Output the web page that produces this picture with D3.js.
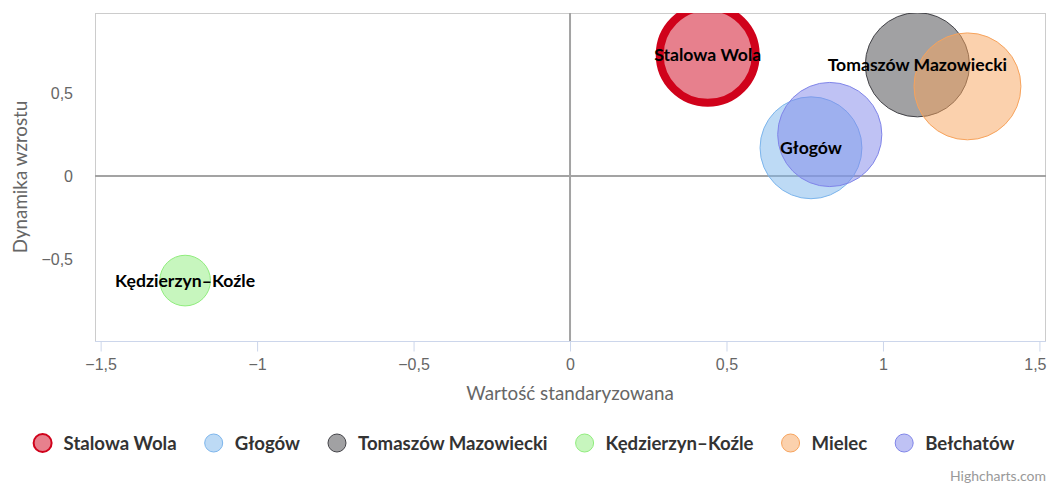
<!DOCTYPE html>
<html>
<head>
<meta charset="utf-8">
<script src="https://cdn.jsdelivr.net/npm/d3@7"></script>
<style>
  body { margin: 0; background: #fff; }
  svg { font-family: Lato, "DejaVu Sans", sans-serif; }
</style>
</head>
<body>
<div id="chart"></div>
<script>
  var names   = ["Stalowa Wola", "Głogów", "Tomaszów Mazowiecki", "Kędzierzyn–Koźle", "Mielec", "Bełchatów"];
  var xValues = [0.44, 0.77, 1.11, -1.23, 1.27, 0.83];
  var yValues = [0.73, 0.17, 0.67, -0.63, 0.54, 0.25];
  var zValues = [79, 89, 93, 22, 98, 93];
  var colors  = ["#d0021b", "#7cb5ec", "#434348", "#90ed7d", "#f7a35c", "#8085e9"];
  // labels hidden where they collide with another label
  var labelled = ["Stalowa Wola", "Głogów", "Tomaszów Mazowiecki", "Kędzierzyn–Koźle"];
  var xTicks  = [-1.5, -1, -0.5, 0, 0.5, 1, 1.5];
  var yTicks  = [-0.5, 0, 0.5];

  var width = 1048, height = 484;
  var plot = { left: 95, top: 13, right: 1046, bottom: 341 };

  var pl = d3.formatLocale({ decimal: ",", thousands: " ", grouping: [3], currency: ["", " zł"], minus: "\u2212" });
  var fmt = pl.format("~f");

  var svg = d3.select("#chart")
    .append("svg")
      .attr("width", width)
      .attr("height", height);

  var x = d3.scaleLinear().domain([-1.518, 1.521]).range([plot.left, plot.right]);
  var y = d3.scaleLinear().domain([-0.994, 0.982]).range([plot.bottom, plot.top]);
  var r = d3.scaleSqrt().domain([0, 100]).range([0, 54]);

  var data = names.map(function(n, i) {
    return { name: n, x: xValues[i], y: yValues[i], z: zValues[i], color: colors[i] };
  });

  // plot frame
  svg.append("rect")
    .attr("x", plot.left + 0.5).attr("y", plot.top + 0.5)
    .attr("width", plot.right - plot.left - 1).attr("height", plot.bottom - plot.top)
    .attr("fill", "none").attr("stroke", "#ccc");

  svg.append("defs").append("clipPath").attr("id", "clip")
    .append("rect")
      .attr("x", plot.left).attr("y", plot.top)
      .attr("width", plot.right - plot.left).attr("height", plot.bottom - plot.top);

  // x axis
  var xAxis = svg.append("g")
    .attr("transform", "translate(0," + (plot.bottom + 0.5) + ")")
    .call(d3.axisBottom(x).tickValues(xTicks).tickFormat(fmt).tickSize(10).tickSizeOuter(0).tickPadding(7));
  xAxis.select(".domain").attr("stroke", "#ccd6eb").attr("d", "M" + plot.left + ",0H" + plot.right);
  xAxis.selectAll(".tick line").attr("stroke", "#ccd6eb");
  xAxis.selectAll(".tick text").attr("fill", "#666").style("font-size", "16px");
  // keep the last label inside the chart, as Highcharts does
  xAxis.selectAll(".tick text").each(function(d) {
    var w = this.getComputedTextLength();
    if (x(d) + w / 2 > plot.right) {
      d3.select(this).attr("text-anchor", "end").attr("x", plot.right - x(d));
    }
  });

  // y axis
  var yAxis = svg.append("g")
    .attr("transform", "translate(" + (plot.left - 22) + ",0)")
    .call(d3.axisLeft(y).tickValues(yTicks).tickFormat(fmt).tickSize(0).tickPadding(0));
  yAxis.select(".domain").remove();
  yAxis.selectAll(".tick text").attr("fill", "#666").style("font-size", "16px");

  // zero lines
  svg.append("line")
    .attr("x1", x(0)).attr("x2", x(0)).attr("y1", plot.top).attr("y2", plot.bottom)
    .attr("stroke", "#a3a3a3").attr("stroke-width", 2);
  svg.append("line")
    .attr("x1", plot.left).attr("x2", plot.right).attr("y1", y(0)).attr("y2", y(0))
    .attr("stroke", "#a3a3a3").attr("stroke-width", 2);

  // axis titles
  svg.append("text")
    .attr("x", x(0)).attr("y", 400)
    .attr("text-anchor", "middle")
    .attr("fill", "#666").style("font-size", "18.8px")
    .text("Wartość standaryzowana");

  svg.append("text")
    .attr("transform", "translate(27," + ((plot.top + plot.bottom) / 2) + ") rotate(-90)")
    .attr("text-anchor", "middle")
    .attr("fill", "#666").style("font-size", "18.8px")
    .text("Dynamika wzrostu");

  // bubbles
  var bubbles = svg.append("g").attr("clip-path", "url(#clip)");
  bubbles.selectAll("circle")
    .data(data)
    .enter().append("circle")
      .attr("cx", function(d) { return x(d.x); })
      .attr("cy", function(d) { return y(d.y); })
      .attr("r", function(d) { return r(d.z); })
      .attr("fill", function(d) { return d.color; })
      .attr("fill-opacity", 0.5)
      .attr("stroke", function(d) { return d.color; })
      .attr("stroke-width", function(d, i) { return i === 0 ? 8 : 1; });

  svg.append("g").selectAll("text")
    .data(data.filter(function(d) { return labelled.indexOf(d.name) >= 0; }))
    .enter().append("text")
      .attr("x", function(d) { return x(d.x); })
      .attr("y", function(d) { return y(d.y); })
      .attr("dy", "0.35em")
      .attr("text-anchor", "middle")
      .attr("fill", "#000")
      .style("font-size", "17.6px").style("font-weight", "bold")
      .text(function(d) { return d.name; });

  // legend
  var legend = svg.append("g").attr("transform", "translate(0,443)");
  var items = legend.selectAll("g")
    .data(data)
    .enter().append("g");
  items.append("circle")
    .attr("r", 9)
    .attr("fill", function(d) { return d.color; })
    .attr("fill-opacity", 0.5)
    .attr("stroke", function(d) { return d.color; })
    .attr("stroke-width", function(d, i) { return i === 0 ? 2 : 1; });
  items.append("text")
    .attr("x", 21)
    .attr("dy", "0.35em")
    .attr("fill", "#333")
    .style("font-size", "18.6px").style("font-weight", "bold")
    .text(function(d) { return d.name; });

  var offsets = [], total = 0;
  items.each(function(d, i) {
    var w = this.querySelector("text").getComputedTextLength();
    offsets.push(total);
    total += 21 + w + (i < data.length - 1 ? 37 : 0);
  });
  var start = width / 2 - (total + 9) / 2 + 9;
  items.attr("transform", function(d, i) { return "translate(" + (start + offsets[i]) + ",0)"; });

  // credits
  svg.append("text")
    .attr("x", 1046).attr("y", 481)
    .attr("text-anchor", "end")
    .attr("fill", "#999").style("font-size", "14px")
    .text("Highcharts.com");
</script>
</body>
</html>
